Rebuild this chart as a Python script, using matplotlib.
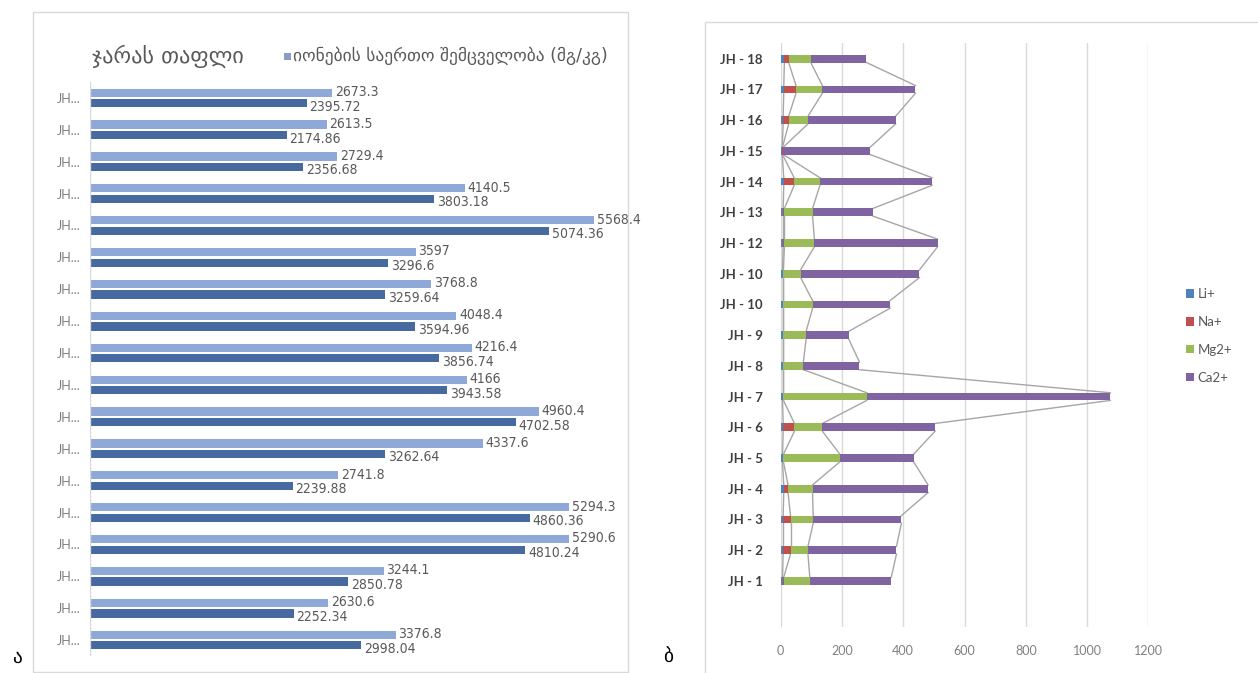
import matplotlib
matplotlib.use("Agg")
import matplotlib.pyplot as plt
from matplotlib.patches import Rectangle, Patch
from matplotlib import font_manager
from matplotlib.font_manager import FontProperties
import numpy as np

# ---------------- data ----------------
# Left panel: total ion content per sample (top to bottom)
left_labels = ["JH..."] * 18
total_light = [2673.3, 2613.5, 2729.4, 4140.5, 5568.4, 3597, 3768.8, 4048.4, 4216.4,
               4166, 4960.4, 4337.6, 2741.8, 5294.3, 5290.6, 3244.1, 2630.6, 3376.8]
total_dark = [2395.72, 2174.86, 2356.68, 3803.18, 5074.36, 3296.6, 3259.64, 3594.96, 3856.74,
              3943.58, 4702.58, 3262.64, 2239.88, 4860.36, 4810.24, 2850.78, 2252.34, 2998.04]

# Right panel: cation composition, bottom (JH - 1) to top (JH - 18)
samples = ["JH - 1", "JH - 2", "JH - 3", "JH - 4", "JH - 5", "JH - 6", "JH - 7", "JH - 8",
           "JH - 9", "JH - 10", "JH - 10", "JH - 12", "JH - 13", "JH - 14", "JH - 15",
           "JH - 16", "JH - 17", "JH - 18"]
li = [6, 8, 8, 10, 6, 8, 6, 6, 6, 6, 6, 8, 8, 10, 5, 8, 10, 12]
na = [4, 24, 24, 14, 3, 37, 3, 3, 3, 3, 3, 4, 4, 34, 1, 18, 40, 14]
mg = [85, 57, 74, 80, 184, 91, 272, 65, 74, 95, 56, 98, 92, 84, 3, 63, 86, 72]
ca = [266, 289, 288, 377, 241, 368, 795, 183, 139, 253, 388, 402, 197, 366, 284, 286, 304, 182]
cation_names = ["Li+", "Na+", "Mg2+", "Ca2+"]
x_ticks_right = [0, 200, 400, 600, 800, 1000, 1200]

title_left = "ჯარას თაფლი"
legend_left = "იონების საერთო შემცველობა (მგ/კგ)"

# ---------------- styling ----------------
W, H = 1258, 673
fig = plt.figure(figsize=(W / 100, H / 100), dpi=100)
fig.patch.set_facecolor("white")


def has_font(name):
    try:
        font_manager.findfont(name, fallback_to_default=False)
        return True
    except Exception:
        return False


# narrow face for the value labels
num_fp = None
for f in font_manager.fontManager.ttflist:
    if f.name in ("Liberation Sans Narrow",) and f.weight in (400, "normal") and f.style == "normal":
        num_fp = FontProperties(fname=f.fname)
        break
if num_fp is None:
    for f in font_manager.fontManager.ttflist:
        if "DejaVuSansCondensed.ttf" in f.fname:
            num_fp = FontProperties(fname=f.fname)
            break
if num_fp is None:
    num_fp = FontProperties(family="Lato")
num_fp.set_size(10)

CAT_FONT = "Lato" if has_font("Lato") else "DejaVu Sans"
GEO_FONT = "DejaVu Sans"

TXT = "#595959"
LIGHT = "#8EA8D8"
DARK = "#46699F"
COLORS = ["#4F81BD", "#C0504D", "#9BBB59", "#8064A2"]
GRID = "#d9d9d9"


def px_axes(x0, y0, x1, y1):
    return fig.add_axes([x0 / W, 1 - y1 / H, (x1 - x0) / W, (y1 - y0) / H])


# panel frames
fig.add_artist(Rectangle((33 / W, 1 - 672 / H), (628 - 33) / W, (672 - 12) / H,
                         transform=fig.transFigure, fill=False, edgecolor=GRID, lw=1))
fig.add_artist(Rectangle((705 / W, -0.05), 0.5, 1 - 22 / H + 0.05,
                         transform=fig.transFigure, fill=False, edgecolor=GRID, lw=1))

# ---------------- left panel ----------------
axL = px_axes(90, 82, 633, 656)
n = len(total_light)
pos = np.arange(n)
h = 0.26
off = 0.165
axL.barh(pos - off, total_light, height=h, color=LIGHT)
axL.barh(pos + off, total_dark, height=h, color=DARK)
axL.set_xlim(0, 6000)
axL.set_ylim(n - 0.5, -0.5)
axL.set_yticks(pos)
axL.set_yticklabels(left_labels, fontsize=9, color="#7f7f7f", fontname=CAT_FONT)
axL.set_xticks([])
axL.tick_params(axis="y", length=0, pad=7)
for s in axL.spines.values():
    s.set_visible(False)
axL.axvline(0, color=GRID, lw=1)

for i, (a, b) in enumerate(zip(total_light, total_dark)):
    axL.annotate(f"{a:g}", (a, i - off), xytext=(2, 0.5), textcoords="offset points",
                 ha="left", va="center", color=TXT, fontproperties=num_fp)
    axL.annotate(f"{b:g}", (b, i + off), xytext=(2, -2.5), textcoords="offset points",
                 ha="left", va="center", color=TXT, fontproperties=num_fp)

fig.text(92 / W, 1 - 56 / H, title_left, fontsize=16, color=TXT, family=GEO_FONT,
         ha="left", va="center")
fig.add_artist(Rectangle((284 / W, 1 - 60 / H), 7 / W, 7 / H, transform=fig.transFigure,
                         facecolor="#8A9CC6", edgecolor="none"))
fig.text(293 / W, 1 - 56 / H, legend_left, fontsize=12.5, color=TXT, family=GEO_FONT,
         ha="left", va="center")

# ---------------- right panel ----------------
axR = px_axes(780.7, 43.3, 1148.3, 627)
ypos = np.arange(1, len(samples) + 1)
hb = 0.25
layers = [li, na, mg, ca]
left = np.zeros(len(samples))
edges = []
for vals, col, name in zip(layers, COLORS, cation_names):
    vals = np.asarray(vals, dtype=float)
    axR.barh(ypos, vals, left=left, height=hb, color=col, label=name, zorder=3)
    left = left + vals
    edges.append(left.copy())

# series lines joining the segment ends of neighbouring bars
for cum in edges:
    for k in range(len(samples) - 1):
        axR.plot([cum[k], cum[k + 1]], [ypos[k] + hb / 2, ypos[k + 1] - hb / 2],
                 color="#a6a6a6", lw=1, zorder=2)

axR.set_xlim(0, 1200)
axR.set_ylim(-0.5, len(samples) + 0.5)
axR.set_xticks(x_ticks_right)
axR.set_xticklabels([str(t) for t in x_ticks_right], fontsize=9, color="#808080",
                    fontname=CAT_FONT)
axR.set_yticks(ypos)
axR.set_yticklabels(samples, fontsize=9.5, color="#404040", fontname=CAT_FONT,
                    fontweight="bold")
axR.tick_params(axis="both", length=0)
axR.tick_params(axis="x", pad=13)
axR.tick_params(axis="y", pad=13)
for s in axR.spines.values():
    s.set_visible(False)
axR.grid(axis="x", color=GRID, lw=1, zorder=0)
axR.set_axisbelow(True)

handles = [Patch(facecolor=c, edgecolor="none") for c in COLORS]
fig.legend(handles, cation_names, loc="center left",
           bbox_to_anchor=(1174 / W, 1 - 336 / H), frameon=False,
           prop={"family": CAT_FONT, "size": 9.5}, labelcolor=TXT,
           handlelength=0.6, handleheight=0.6, handletextpad=0.3, labelspacing=1.2)

# panel letters
fig.text(12 / W, 1 - 657 / H, "ა", fontsize=14, color="black", family=GEO_FONT,
         ha="left", va="center")
fig.text(663 / W, 1 - 657 / H, "ბ", fontsize=14, color="black", family=GEO_FONT,
         ha="left", va="center")

fig.savefig("out.png", dpi=100, facecolor="white")
